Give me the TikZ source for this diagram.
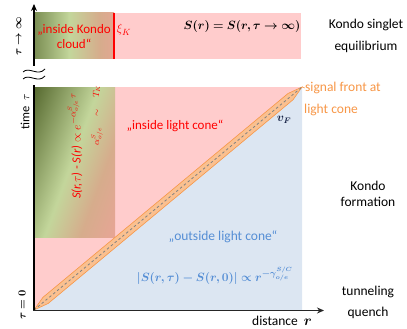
\documentclass[tikz,border=0pt]{standalone}
\usepackage{amsmath}
\usepackage{bm}
\usepackage{fontspec}
\setmainfont{Carlito}
\usetikzlibrary{arrows.meta}
\definecolor{kpink}{RGB}{255,204,204}
\definecolor{kblue}{RGB}{220,230,242}
\definecolor{kolive}{RGB}{79,98,40}
\definecolor{klgreen}{RGB}{195,214,155}
\definecolor{ktan}{RGB}{214,172,140}
\definecolor{ksalmon}{RGB}{236,163,152}
\definecolor{korange}{RGB}{247,150,70}
\definecolor{kband}{RGB}{250,192,144}
\definecolor{kbluetext}{RGB}{85,142,213}
\definecolor{knavy}{RGB}{23,35,70}
\pgfdeclarehorizontalshading{kondomain}{100bp}{color(0bp)=(kolive); color(30bp)=(kolive); color(49bp)=(klgreen); color(59bp)=(ktan); color(71bp)=(ksalmon); color(100bp)=(ksalmon)}
\pgfdeclarehorizontalshading{kondotop}{100bp}{color(0bp)=(kolive); color(12bp)=(kolive); color(47bp)=(klgreen); color(66bp)=(ktan); color(82bp)=(ksalmon); color(100bp)=(kpink)}
\tikzset{
  lbl/.style={font=\fontsize{13.5}{15}\selectfont, inner sep=0pt},
  redlbl/.style={font=\fontsize{13}{15}\selectfont, text=red, inner sep=0pt},
  axisline/.style={line width=1.6pt, black},
}
\begin{document}
\begin{tikzpicture}[x=1pt,y=-1pt]
\useasboundingbox (0,0) rectangle (407,329);
% ---------- top panel ----------
\fill[kpink] (34,13) rectangle (301,59);
\shade[shading=kondotop] (34,13) rectangle (114,59);
\coordinate (xia) at (114,13);
\coordinate (xib) at (114,59);
\draw[red, line width=1.6pt] (xia) -- (xib);
% ---------- main panel ----------
\coordinate (S) at (34,310);
\coordinate (E) at (302,87);
\fill[kpink] (S) -- (34,87) -- (E) -- cycle;
\fill[kblue] (S) -- (E) -- (302,310) -- cycle;
\begin{scope}
  \clip (34,87) rectangle (115,237);
  \shade[shading=kondomain, shading angle=-20] (-10,77) rectangle (160,247);
\end{scope}
% light-cone band
\filldraw[fill=kband, draw=korange, line width=0.6pt]
  (S) -- (48.1,303.5) -- (293.1,99.7) -- (E) -- (288.0,93.5) -- (43.0,297.3) -- cycle;
\draw[gray, line width=0.8pt, dash pattern=on 2.5pt off 2.5pt] (S) -- (E);
% ---------- axes ----------
\coordinate (ytop) at (34,4);
\coordinate (ybrk) at (34,66);
\coordinate (ylow) at (34,85);
\coordinate (o) at (34,310.5);
\coordinate (xend) at (324,310.5);
\draw[axisline, -{Stealth[length=7pt,width=6pt]}] (ybrk) -- (ytop);
\draw[axisline] (o) -- (ylow);
\draw[line width=1.6pt, black!85, -{Stealth[length=7pt,width=6pt]}] (33.2,310.5) -- (xend);
% break marks
\draw[line width=0.8pt] (23,72) .. controls (29,66) and (38,77) .. (45,69);
\draw[line width=0.8pt] (23,79) .. controls (29,73) and (38,84) .. (45,76);
% ---------- labels ----------
\node[rotate=90, font=\fontsize{11}{12}\selectfont, inner sep=0pt] (tinf) at (19,36) {$\bm{\tau\rightarrow\infty}$};
\node[rotate=90, font=\fontsize{12.5}{14}\selectfont, inner sep=0pt] (time) at (25,112) {time\ \ $\tau$};
\node[rotate=90, font=\fontsize{11}{12}\selectfont, inner sep=0pt] (tzero) at (22,305) {$\bm{\tau=0}$};
\node[redlbl, align=center] (cloud) at (74,37) {„inside Kondo\\[0pt]cloud“};
\node[redlbl, font=\fontsize{13}{14}\selectfont] (xi) at (124,30) {$\xi_K$};
\node[lbl, font=\fontsize{13}{14}\selectfont] (eqlabel) at (242,27) {$\bm{S(r)=S(r,\tau\rightarrow\infty)}$};
\node[lbl] (ks) at (366,25) {Kondo singlet};
\node[lbl] (eqb) at (366,47) {equilibrium};
\node[lbl, text=korange, anchor=west] (sf) at (305,88) {signal front at};
\node[lbl, text=korange, anchor=west] (lc) at (304,110) {light cone};
\draw[korange, line width=0.6pt] (E) -- (sf.west);
\node[redlbl] (inl) at (175,126) {„inside light cone“};
\node[text=knavy, font=\fontsize{12}{14}\selectfont, inner sep=0pt] (vf) at (284,120) {$\bm{v_F}$};
\node[rotate=90, text=red, font=\fontsize{12.5}{14}\selectfont, inner sep=0pt] (decay) at (75,146)
  {\itshape S(r,$\tau$) - S(r) $\propto e^{-\alpha^S_{o/e}\,\tau}$};
\node[rotate=90, text=red, font=\fontsize{9}{10}\selectfont, inner sep=0pt] (alpha) at (97,115)
  {$\alpha^S_{o/e}\quad\sim\quad T_K$};
\node[lbl] (kf) at (368,186) {Kondo};
\node[lbl] (kf2) at (368,202) {formation};
\node[lbl, text=kbluetext] (outl) at (223,237) {„outside light cone“};
\node[text=kbluetext, font=\fontsize{12.5}{14}\selectfont, inner sep=0pt] (pow) at (215,276)
  {$\bm{|S(r,\tau)-S(r,0)|\propto r^{-\gamma^{S/C}_{o/e}}}$};
\node[lbl] (tq) at (368,292) {tunneling};
\node[lbl] (tq2) at (368,313) {quench};
\node[lbl, anchor=west] (dist) at (252,321) {distance\ \ $\bm{r}$};
\end{tikzpicture}
\end{document}
